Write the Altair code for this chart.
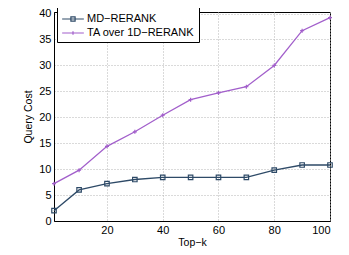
import altair as alt
import pandas as pd

topk = [1, 10, 20, 30, 40, 50, 60, 70, 80, 90, 100]
md_rerank = [2.0, 6.0, 7.2, 8.0, 8.4, 8.4, 8.4, 8.4, 9.8, 10.8, 10.8]
ta_over_1d = [7.2, 9.8, 14.4, 17.2, 20.4, 23.4, 24.7, 25.9, 30.0, 36.7, 39.2]
series_names = ["MD\u2212RERANK", "TA over 1D\u2212RERANK"]
series_colors = ["#2e4a67", "#a25fcb"]
x_ticks = [20, 40, 60, 80, 100]
y_ticks = [0, 5, 10, 15, 20, 25, 30, 35, 40]

rows = []
for k, a, b in zip(topk, md_rerank, ta_over_1d):
    rows.append({"k": k, "cost": a, "series": series_names[0]})
    rows.append({"k": k, "cost": b, "series": series_names[1]})
df = pd.DataFrame(rows)

font = "Liberation Sans"
x_enc = alt.X("k:Q", scale=alt.Scale(domain=[1, 100], nice=False, zero=False),
              axis=alt.Axis(values=x_ticks, title="Top\u2212k", grid=True))
y_enc = alt.Y("cost:Q", scale=alt.Scale(domain=[0, 40.3], nice=False),
              axis=alt.Axis(values=y_ticks, title="Query Cost", grid=True))
color_enc = alt.Color("series:N", scale=alt.Scale(domain=series_names, range=series_colors), legend=None)

base = alt.Chart(df)
lines = base.mark_line(strokeWidth=1.3).encode(x=x_enc, y=y_enc, color=color_enc)

marker_paths = ["M-1,-1H1V1H-1Z", "M-1,0H1M0,-1V1"]
points = base.mark_point(filled=False, strokeWidth=1.2, opacity=1).encode(
    x=x_enc, y=y_enc, color=color_enc,
    shape=alt.Shape("series:N", scale=alt.Scale(domain=series_names, range=marker_paths), legend=None),
    size=alt.Size("series:N", scale=alt.Scale(domain=series_names, range=[20, 16]), legend=None),
)

legend_paths = ["M-1.55,0H1.55M-0.3,-0.3H0.3V0.3H-0.3Z", "M-1.55,0H1.55M0,-0.25V0.25"]
legend_layer = base.transform_filter("false").mark_point(filled=False, strokeWidth=1.2, opacity=1, size=196).encode(
    x=x_enc, y=y_enc,
    color=alt.Color("series:N", scale=alt.Scale(domain=series_names, range=series_colors),
                    legend=alt.Legend(title=None, orient="none", legendX=3, legendY=-5,
                                      fillColor="white", strokeColor="black", padding=4,
                                      symbolSize=196, symbolStrokeWidth=1.2, labelFontSize=11,
                                      labelFont=font, labelColor="black", rowPadding=1,
                                      symbolOffset=4, labelOffset=6, cornerRadius=0,
                                      symbolOpacity=1)),
    shape=alt.Shape("series:N", scale=alt.Scale(domain=series_names, range=legend_paths), legend=None),
)

chart = alt.layer(lines, points, legend_layer).resolve_scale(
    shape="independent", size="independent", color="independent"
).properties(
    width=276, height=209,
    autosize=alt.AutoSizeParams(type="none"),
    padding={"left": 46, "top": 4, "right": 10, "bottom": 30},
).configure_view(
    stroke="black", strokeWidth=1
).configure_axis(
    labelFont=font, titleFont=font, labelFontSize=11, titleFontSize=10.5,
    labelColor="black", titleColor="black", titleFontWeight="normal",
    domainColor="black", domainWidth=1, ticks=False, labelPadding=3,
    gridColor="#b5b5b5", gridDash=[1, 2], gridWidth=1,
).configure_axisX(titlePadding=2).configure_axisY(titlePadding=5)

chart.save("out.html", embed_options={"renderer": "svg", "actions": False})
